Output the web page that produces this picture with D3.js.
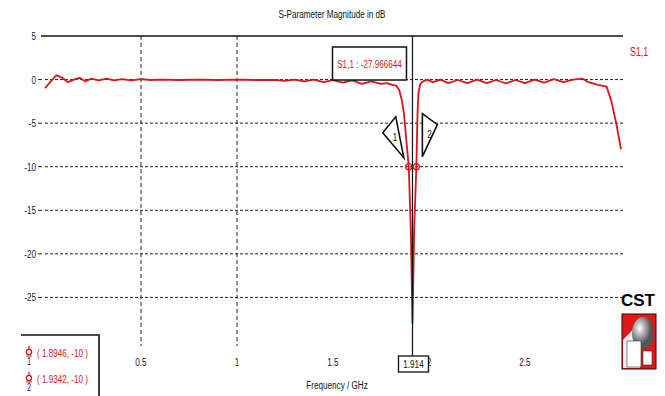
<!DOCTYPE html>
<html>
<head>
<meta charset="utf-8">
<script src="https://cdn.jsdelivr.net/npm/d3@7"></script>
<style>
  body { margin: 0; background: #fff; }
  text { font-family: "Liberation Sans", "DejaVu Sans", sans-serif; }
</style>
</head>
<body>
<div id="vis"></div>
<script>
const WIDTH = 665;
const HEIGHT = 396;
const MARGIN = { LEFT: 45, RIGHT: 44, TOP: 36, BOTTOM: 55 };

// S1,1 magnitude
const freq = [
  0, 0.03, 0.06, 0.09, 0.12, 0.15, 0.18, 0.21, 0.24, 0.28, 0.32, 0.36, 0.4,
  0.45, 0.5, 0.55, 0.6, 0.7, 0.8, 0.9, 1.0, 1.1, 1.2, 1.25, 1.3, 1.35, 1.4,
  1.45, 1.5, 1.55, 1.6, 1.65, 1.7, 1.75, 1.78, 1.81, 1.83, 1.845, 1.86, 1.87,
  1.88, 1.8946, 1.905, 1.914, 1.923, 1.9342, 1.94, 1.945, 1.955, 1.97, 1.99,
  2.02, 2.06, 2.1, 2.15, 2.2, 2.25, 2.3, 2.35, 2.4, 2.45, 2.5, 2.55, 2.6,
  2.65, 2.7, 2.75, 2.8, 2.83, 2.88, 2.925, 2.95, 2.975, 3.0
];
const s11 = [
  -1.0, -0.2, 0.5, 0.2, -0.3, 0.0, 0.2, -0.2, 0.1, -0.1, 0.1, -0.1, 0.05,
  -0.1, 0.05, -0.05, 0.0, -0.05, 0.0, -0.05, 0.0, -0.05, -0.05, -0.15, 0.0, -0.2, 0.0,
  -0.3, -0.05, -0.35, -0.1, -0.5, -0.2, -0.5, -0.4, -0.6, -0.7, -1.2, -2.5, -4,
  -6.5, -10, -17, -27.97, -17, -10, -4, -1.5, -0.5, -0.2, 0.0,
  -0.3, 0.0, -0.4, -0.05, -0.4, 0.0, -0.4, -0.05, -0.45, -0.05, -0.4, 0.0, -0.35,
  0.05, -0.3, 0.0, 0.1, -0.3, -0.6, -0.8, -2.5, -5, -8
];

const xTicks = [0.5, 1, 1.5, 2, 2.5];
const xTickLabels = ["0.5", "1", "1.5", "2", "2.5"];
const xGrid = [0.5, 1];
const yTicks = [5, 0, -5, -10, -15, -20, -25];
const yTickLabels = ["5", "0", "-5", "-10", "-15", "-20", "-25"];

const markerFreq = [1.8946, 1.9342];
const markerVal = [-10, -10];
const markerNames = ["1", "2"];
const markerText = ["( 1.8946, -10 )", "( 1.9342, -10 )"];
const cursorFreq = 1.914;
const cursorLabel = "S1,1 : -27.966644";

const RED = "#d8141c";
const NARROW = 0.74;

const x = d3.scaleLinear().domain([0, 3]).range([MARGIN.LEFT, WIDTH - MARGIN.RIGHT]);
const y = d3.scaleLinear().domain([-30, 5]).range([HEIGHT - MARGIN.BOTTOM, MARGIN.TOP]);

const svg = d3.select("#vis").append("svg")
  .attr("width", WIDTH)
  .attr("height", HEIGHT);

// condensed text, like the CST plot font
function ntext(g, tx, ty, str, size, anchor, fill) {
  return g.append("text")
    .attr("transform", `translate(${tx},${ty}) scale(${NARROW},1)`)
    .attr("text-anchor", anchor || "start")
    .attr("font-size", size)
    .attr("fill", fill || "#111")
    .text(str);
}

// title
ntext(svg, 332, 18, "S-Parameter Magnitude in dB", 11, "middle");

// grid
svg.append("g").selectAll("line")
  .data(yTicks.filter((d) => d !== 5))
  .enter().append("line")
  .attr("x1", x(0)).attr("x2", x(3) + 2)
  .attr("y1", (d) => y(d)).attr("y2", (d) => y(d))
  .attr("stroke", "#222").attr("stroke-width", 1)
  .attr("stroke-dasharray", "3,2");

svg.append("g").selectAll("line")
  .data(xGrid)
  .enter().append("line")
  .attr("x1", (d) => x(d)).attr("x2", (d) => x(d))
  .attr("y1", y(5)).attr("y2", y(-30) + 5)
  .attr("stroke", "#222").attr("stroke-width", 1)
  .attr("stroke-dasharray", "4,3");

// top line at 5 dB
svg.append("line")
  .attr("x1", x(0) - 4).attr("x2", x(3) + 2)
  .attr("y1", y(5)).attr("y2", y(5))
  .attr("stroke", "#111").attr("stroke-width", 1.3);

// y axis labels
const yAxis = svg.append("g");
yTicks.forEach((d, i) => {
  ntext(yAxis, x(0) - 9, y(d) + 4, yTickLabels[i], 11, "end", "#1a1a40");
});
yAxis.selectAll("line")
  .data(yTicks.filter((d) => d !== 5))
  .enter().append("line")
  .attr("x1", x(0) - 7).attr("x2", x(0) - 3)
  .attr("y1", (d) => y(d)).attr("y2", (d) => y(d))
  .attr("stroke", "#222");

// x axis labels
const xAxis = svg.append("g");
xTicks.forEach((d, i) => {
  ntext(xAxis, x(d), 366, xTickLabels[i], 11, "middle", "#1a1a40");
});
ntext(svg, 337, 389, "Frequency / GHz", 11, "middle");

// curve
const points = freq.map((f, i) => [f, s11[i]]);
svg.append("path")
  .datum(points)
  .attr("fill", "none")
  .attr("stroke", RED)
  .attr("stroke-width", 1.8)
  .attr("stroke-linejoin", "round")
  .attr("d", d3.line().x((d) => x(d[0])).y((d) => y(d[1])));

// cursor line
svg.append("line")
  .attr("x1", x(cursorFreq)).attr("x2", x(cursorFreq))
  .attr("y1", y(5)).attr("y2", 356)
  .attr("stroke", "#111").attr("stroke-width", 1.2);

// cursor value box
svg.append("rect")
  .attr("x", x(cursorFreq) - 80).attr("y", 47)
  .attr("width", 74).attr("height", 33)
  .attr("fill", "#fff").attr("stroke", "#111").attr("stroke-width", 1.5);
ntext(svg, x(cursorFreq) - 43, 68, cursorLabel, 11, "middle", RED);

// cursor frequency box
svg.append("rect")
  .attr("x", x(cursorFreq) - 14).attr("y", 356)
  .attr("width", 30).attr("height", 16)
  .attr("fill", "#fff").attr("stroke", "#111").attr("stroke-width", 1.3);
ntext(svg, x(cursorFreq) + 1, 368, String(cursorFreq), 11, "middle");

// markers
const mk = svg.append("g");
mk.selectAll("circle")
  .data(markerFreq)
  .enter().append("circle")
  .attr("cx", (d) => x(d))
  .attr("cy", (d, i) => y(markerVal[i]))
  .attr("r", 3)
  .attr("fill", "none")
  .attr("stroke", RED)
  .attr("stroke-width", 1.3);

// marker callouts
const callouts = [
  { pts: [[-26, -34], [-13, -50], [-5, -9]], lx: -16, ly: -26 },
  { pts: [[6, -53], [21, -42], [6, -10]], lx: 11, ly: -29 }
];
callouts.forEach((c, i) => {
  const mx = x(markerFreq[i]);
  const my = y(markerVal[i]);
  svg.append("polygon")
    .attr("points", c.pts.map((p) => [mx + p[0], my + p[1]].join(",")).join(" "))
    .attr("fill", "#fff").attr("stroke", "#111").attr("stroke-width", 1.6);
  ntext(svg, mx + c.lx, my + c.ly, markerNames[i], 11, "start");
});

// right-side legend
ntext(svg, 630, 56, "S1,1", 12, "start", RED);

// marker legend, bottom left
const lg = svg.append("g");
lg.append("path")
  .attr("d", "M21,335H99V396")
  .attr("fill", "none").attr("stroke", "#111").attr("stroke-width", 1.6);
markerText.forEach((t, i) => {
  const ly = 355 + i * 26;
  lg.append("circle").attr("cx", 29).attr("cy", ly - 3).attr("r", 2.6)
    .attr("fill", "none").attr("stroke", RED).attr("stroke-width", 1.3);
  lg.append("line").attr("x1", 29).attr("x2", 29).attr("y1", ly - 9).attr("y2", ly - 6)
    .attr("stroke", RED).attr("stroke-width", 1.3);
  lg.append("line").attr("x1", 26).attr("x2", 32).attr("y1", ly + 1).attr("y2", ly + 1)
    .attr("stroke", RED).attr("stroke-width", 1);
  ntext(lg, 27, ly + 10, markerNames[i], 10, "start", "#1a1a40");
  ntext(lg, 37, ly + 2, t, 11, "start", RED);
});

// CST logo
const logo = svg.append("g");
logo.append("text")
  .attr("x", 638).attr("y", 306)
  .attr("text-anchor", "middle")
  .attr("font-weight", "bold")
  .attr("font-size", 17)
  .text("CST");
logo.append("rect").attr("x", 622).attr("y", 314).attr("width", 34).attr("height", 55)
  .attr("fill", "#e01818").attr("stroke", "#400").attr("stroke-width", 1);
logo.append("path").attr("d", "M623,340L640,322L640,368L623,368Z").attr("fill", "#f0f0f0");
const grad = svg.append("defs").append("radialGradient").attr("id", "ball")
  .attr("cx", "35%").attr("cy", "35%");
grad.append("stop").attr("offset", "0%").attr("stop-color", "#fff");
grad.append("stop").attr("offset", "100%").attr("stop-color", "#555");
logo.append("ellipse").attr("cx", 643).attr("cy", 333).attr("rx", 11).attr("ry", 16)
  .attr("fill", "url(#ball)");
logo.append("rect").attr("x", 627).attr("y", 341).attr("width", 14).attr("height", 26)
  .attr("fill", "#fff").attr("stroke", "#333").attr("stroke-width", 0.6);
logo.append("rect").attr("x", 643).attr("y", 351).attr("width", 9).attr("height", 14)
  .attr("fill", "#fff").attr("stroke", "#333").attr("stroke-width", 0.6);
</script>
</body>
</html>
